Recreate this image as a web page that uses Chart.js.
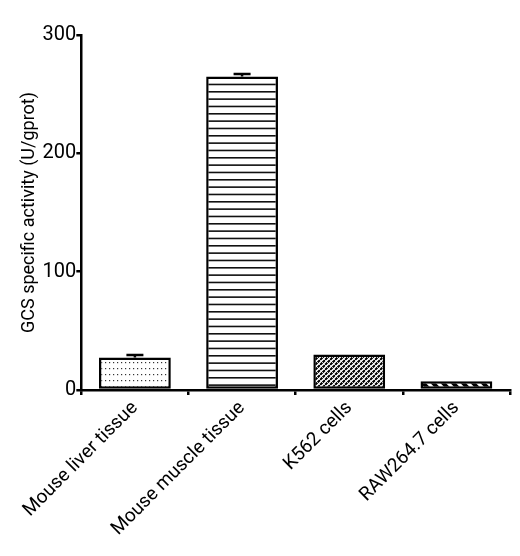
<!DOCTYPE html>
<html>
<head>
<meta charset="utf-8">
<script src="https://cdn.jsdelivr.net/npm/chart.js@4"></script>
<style>
  html, body { margin: 0; padding: 0; background: #fff; }
  #wrap { width: 520px; height: 556px; }
</style>
</head>
<body>
<div id="wrap"><canvas id="chart" width="520" height="556"></canvas></div>
<script>
// Data
const categories = ['Mouse liver tissue', 'Mouse muscle tissue', 'K562 cells', 'RAW264.7 cells']
const activity = [27.5, 265, 30, 7.5]
const errors = [2, 2, 0.5, 0.5]
const yTicks = [0, 100, 200, 300]

// Fill patterns
function makeTile(w, h, draw) {
  const c = document.createElement('canvas')
  c.width = w
  c.height = h
  const g = c.getContext('2d')
  g.fillStyle = '#fff'
  g.fillRect(0, 0, w, h)
  draw(g, w, h)
  return document.getElementById('chart').getContext('2d').createPattern(c, 'repeat')
}

const dots = makeTile(4, 6, (g) => {
  g.fillStyle = '#333'
  g.fillRect(1, 2, 1.2, 1.2)
})

const hLines = makeTile(22, 22, (g) => {
  g.fillStyle = '#111'
  ;[0, 7.33, 14.67].forEach((y) => g.fillRect(0, y + 3, 22, 1.6))
})

const cross = makeTile(5, 5, (g) => {
  g.strokeStyle = '#000'
  g.lineWidth = 2
  g.beginPath()
  g.moveTo(-1, 6); g.lineTo(6, -1)
  g.moveTo(-4, 4); g.lineTo(4, -4)
  g.moveTo(1, 9); g.lineTo(9, 1)
  g.stroke()
  g.strokeStyle = '#fff'
  g.lineWidth = 0.8
  g.beginPath()
  g.moveTo(-1, -1); g.lineTo(6, 6)
  g.stroke()
})

const stripes = makeTile(10, 10, (g) => {
  g.strokeStyle = '#000'
  g.lineWidth = 4
  g.beginPath()
  g.moveTo(-2, -2); g.lineTo(12, 12)
  g.moveTo(-12, -2); g.lineTo(2, 12)
  g.moveTo(8, -2); g.lineTo(22, 12)
  g.stroke()
})

// Error bars (upper half only)
const errorBars = {
  id: 'errorBars',
  afterDatasetsDraw(chart) {
    const { ctx, scales } = chart
    const meta = chart.getDatasetMeta(0)
    ctx.save()
    ctx.strokeStyle = '#000'
    ctx.lineWidth = 2.5
    meta.data.forEach((bar, i) => {
      const yTop = scales.y.getPixelForValue(activity[i] + errors[i])
      const yVal = scales.y.getPixelForValue(activity[i])
      if (yVal - yTop < 1) return
      ctx.beginPath()
      ctx.moveTo(bar.x, yVal)
      ctx.lineTo(bar.x, yTop)
      ctx.moveTo(bar.x - 8.5, yTop)
      ctx.lineTo(bar.x + 8.5, yTop)
      ctx.stroke()
    })
    ctx.restore()
  },
}

Chart.defaults.font.family = 'Roboto, "Liberation Sans", sans-serif'
Chart.defaults.color = '#000'

new Chart(document.getElementById('chart'), {
  type: 'bar',
  data: {
    labels: categories,
    datasets: [
      {
        data: activity,
        backgroundColor: [dots, hLines, cross, stripes],
        borderColor: '#000',
        borderWidth: 2.5,
        borderSkipped: false,
        barPercentage: 0.67,
        categoryPercentage: 1,
      },
    ],
  },
  options: {
    responsive: false,
    animation: false,
    layout: { padding: { top: 35, right: 10, left: 0, bottom: 0 } },
    plugins: { legend: { display: false }, tooltip: { enabled: false } },
    scales: {
      x: {
        offset: true,
        afterFit(scale) {
          scale.height = 166
        },
        border: { display: true, color: '#000', width: 2.5 },
        grid: { display: true, drawOnChartArea: false, color: '#000', lineWidth: 2.5, tickLength: 5 },
        ticks: { minRotation: 45, maxRotation: 45, padding: 2, font: { size: 19 } },
      },
      y: {
        min: 0,
        max: 300,
        afterBuildTicks(scale) {
          scale.ticks = yTicks.map((v) => ({ value: v }))
        },
        border: { display: true, color: '#000', width: 2.5 },
        grid: { display: true, drawOnChartArea: false, color: '#000', lineWidth: 2.5, tickLength: 5 },
        ticks: { padding: 0, font: { size: 20 } },
        title: {
          display: true,
          text: 'GCS specific activity (U/gprot)',
          font: { size: 18 },
          padding: { top: 19, bottom: 2 },
        },
      },
    },
  },
  plugins: [errorBars],
})
</script>
</body>
</html>
